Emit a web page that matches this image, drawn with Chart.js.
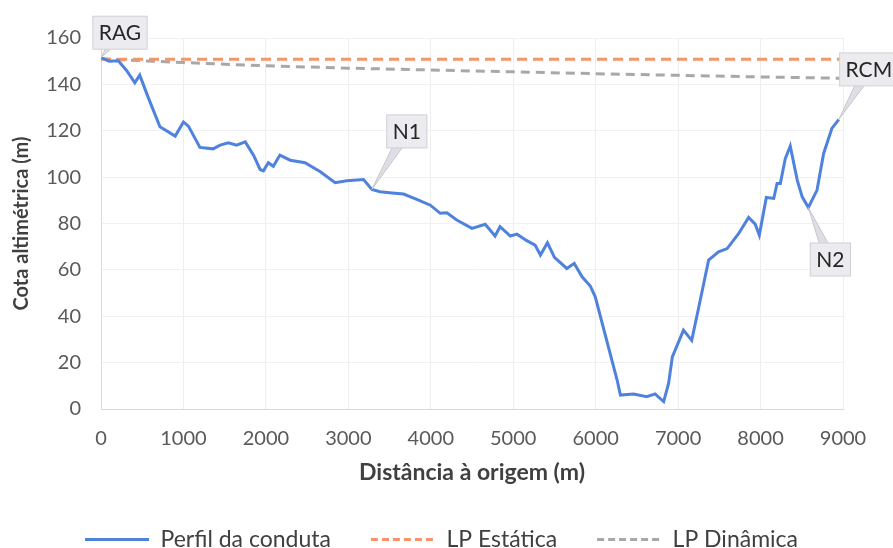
<!DOCTYPE html>
<html>
<head>
<meta charset="utf-8">
<script src="https://cdn.jsdelivr.net/npm/chart.js@4.4.0/dist/chart.umd.min.js"></script>
<style>
  html, body { margin: 0; padding: 0; background: #fff; }
  #wrap { width: 893px; height: 548px; }
</style>
</head>
<body>
<div id="wrap"><canvas id="chart"></canvas></div>
<script>
// profile of the pipe (distance m, elevation m)
const profileX = [0, 100, 210, 310, 410, 470, 570, 715, 900, 1000, 1060, 1200, 1360, 1445, 1545, 1645, 1750, 1850, 1930, 1970,
  2030, 2090, 2170, 2295, 2475, 2660, 2840, 2980, 3185, 3285, 3385, 3530, 3670, 3830, 3995, 4115, 4195, 4315, 4500, 4660,
  4780, 4840, 4965, 5045, 5165, 5265, 5330, 5415, 5500, 5650, 5740, 5835, 5935, 5995, 6260, 6300, 6460, 6620, 6720, 6825,
  6885, 6930, 7065, 7165, 7260, 7370, 7490, 7595, 7735, 7855, 7935, 7985, 8070, 8160, 8200, 8240, 8300, 8360, 8445, 8505,
  8580, 8685, 8765, 8865, 8950];
const profileY = [151.5, 150, 150.2, 146, 140.7, 144, 134.6, 121.7, 117.7, 123.8, 122, 112.8, 112.2, 113.8, 114.8, 113.8, 115.2, 109.5, 103.3, 102.7,
  106.2, 104.7, 109.5, 107.3, 106.2, 102.3, 97.6, 98.4, 99, 94.7, 93.7, 93.2, 92.7, 90.4, 87.9, 84.4, 84.6, 81.5, 77.9, 79.7,
  74.6, 78.6, 74.6, 75.4, 72.6, 70.7, 66.4, 71.7, 65.4, 60.6, 62.8, 57, 53, 48.4, 12.5, 6, 6.5, 5.3, 6.5, 3.2,
  11.1, 22.5, 34, 29.6, 45.5, 64.2, 67.8, 69.2, 75.7, 82.6, 79.7, 75, 91.2, 90.8, 97.3, 97.3, 108, 113.4, 98.7, 91.5,
  86.9, 94.4, 110.2, 121, 124.9];

const staticX = [0, 9000];
const staticY = [150.8, 150.8];

const dynamicX = [0, 1000, 2000, 3000, 4000, 5000, 6000, 7000, 8000, 9000];
const dynamicY = [151, 149.4, 148, 147, 146.2, 145.4, 144.6, 143.9, 143.2, 142.6];

const seriesNames = ["Perfil da conduta", "LP Estática", "LP Dinâmica"];

// callouts: label, index in profile arrays, box offset in px
const callouts = [
  { text: "RAG", idx: 0, dx: 19, dy: -25 },
  { text: "N1", idx: 29, dx: 35, dy: -58 },
  { text: "N2", idx: 80, dx: 22, dy: 52 },
  { text: "RCM", idx: 84, dx: 30, dy: -50 }
];

const toPoints = (xs, ys) => xs.map((x, i) => ({ x: x, y: ys[i] }));

const calloutPlugin = {
  id: "callouts",
  afterDatasetsDraw(chart) {
    const ctx = chart.ctx;
    const meta = chart.getDatasetMeta(0);
    ctx.save();
    ctx.font = "21px Lato";
    callouts.forEach((c) => {
      const pt = meta.data[c.idx];
      const px = pt.x, py = pt.y;
      const cx = px + c.dx, cy = py + c.dy;
      const w = ctx.measureText(c.text).width + 12;
      const h = 33;
      // pointer wedge
      const ang = Math.atan2(cy - py, cx - px);
      const nx = -Math.sin(ang) * 6, ny = Math.cos(ang) * 6;
      ctx.beginPath();
      ctx.moveTo(px, py);
      ctx.lineTo(cx + nx, cy + ny);
      ctx.lineTo(cx - nx, cy - ny);
      ctx.closePath();
      ctx.fillStyle = "#dedee4";
      ctx.fill();
      ctx.strokeStyle = "#c6c6ce";
      ctx.lineWidth = 1;
      ctx.stroke();
      // box
      ctx.fillStyle = "#ebebf0";
      ctx.fillRect(cx - w / 2, cy - h / 2, w, h);
      ctx.strokeStyle = "#d0d0d8";
      ctx.strokeRect(cx - w / 2, cy - h / 2, w, h);
      ctx.fillStyle = "#262626";
      ctx.textAlign = "center";
      ctx.textBaseline = "middle";
      ctx.fillText(c.text, cx, cy + 1);
    });
    ctx.restore();
  }
};

Chart.defaults.font.family = "Lato";
Chart.defaults.color = "#595959";

const ctx = document.getElementById("chart").getContext("2d");
new Chart(ctx, {
  type: "line",
  data: {
    datasets: [
      {
        label: seriesNames[0],
        data: toPoints(profileX, profileY),
        borderColor: "#4f82dd",
        backgroundColor: "#4f82dd",
        borderWidth: 3,
        pointRadius: 0,
        tension: 0
      },
      {
        label: seriesNames[1],
        data: toPoints(staticX, staticY),
        borderColor: "#f6956c",
        backgroundColor: "#f6956c",
        borderWidth: 3,
        borderDash: [10, 6],
        pointRadius: 0
      },
      {
        label: seriesNames[2],
        data: toPoints(dynamicX, dynamicY),
        borderColor: "#a8a8a8",
        backgroundColor: "#a8a8a8",
        borderWidth: 3,
        borderDash: [9, 6],
        pointRadius: 0
      }
    ]
  },
  options: {
    responsive: true,
    maintainAspectRatio: false,
    animation: false,
    layout: { padding: { top: 38, right: 50, left: 40, bottom: 0 } },
    plugins: {
      legend: {
        position: "bottom",
        maxHeight: 60,
        labels: {
          usePointStyle: true,
          pointStyle: "line",
          pointStyleWidth: 64,
          padding: 40,
          color: "#404040",
          font: { size: 23 },
          generateLabels: (chart) => {
            const items = Chart.defaults.plugins.legend.labels.generateLabels(chart);
            items.forEach((it) => {
              const ds = chart.data.datasets[it.datasetIndex];
              it.lineDash = ds.borderDash ? [7, 4] : [];
              it.lineWidth = 3;
              it.strokeStyle = ds.borderColor;
            });
            return items;
          }
        }
      },
      tooltip: { enabled: false }
    },
    scales: {
      x: {
        type: "linear",
        min: 0,
        max: 9000,
        ticks: { stepSize: 1000, padding: 18, font: { size: 20 }, color: "#595959", callback: (v) => String(v) },
        grid: { color: "#eeeeee", drawTicks: false },
        border: { color: "#d9d9d9" },
        title: {
          display: true,
          text: "Distância à origem (m)",
          color: "#404040",
          font: { size: 23, weight: "bold" },
          padding: { top: 4, bottom: 2 }
        },
        afterFit: (axis) => { axis.height = 79; }
      },
      y: {
        min: 0,
        max: 160,
        ticks: { stepSize: 20, padding: 20, font: { size: 20 }, color: "#595959" },
        grid: { color: "#f1f1f1", drawTicks: false },
        border: { color: "#d9d9d9" },
        title: {
          display: true,
          text: "Cota altimétrica (m)",
          color: "#404040",
          font: { size: 20, weight: "bold" },
          padding: { top: -30, bottom: 0 }
        },
        afterFit: (axis) => { axis.width = 61; }
      }
    }
  },
  plugins: [calloutPlugin]
});
</script>
</body>
</html>
